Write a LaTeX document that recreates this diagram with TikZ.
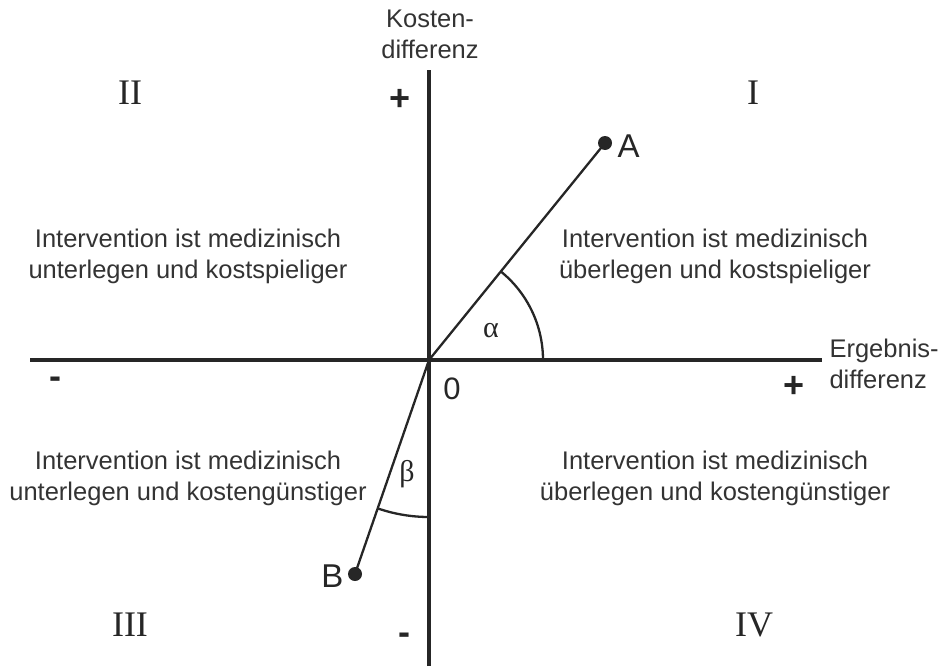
\documentclass[tikz,border=0pt]{standalone}
\usepackage{fontspec}
\setmainfont{Liberation Sans}
\newfontfamily\romfont{Liberation Serif}
\usepackage{tikz}
\usepackage{xcolor}

\begin{document}
\begin{tikzpicture}[x=1pt,y=-1pt,
  axis/.style={line width=3.8pt,draw=black!85},
  ray/.style={line width=2.3pt,draw=black!85},
  txt/.style={font=\fontsize{25.5}{31}\selectfont,align=center,text=black!80},
  quad/.style={font=\romfont\fontsize{36}{40}\selectfont,text=black!85},
  sgn/.style={font=\bfseries\fontsize{36}{36}\selectfont,text=black!85}]
\useasboundingbox (0,0) rectangle (944,666);
\coordinate (O) at (429,360);
\coordinate (yt) at (429,70);
\coordinate (yb) at (429,666);
\coordinate (xl) at (30,360);
\coordinate (xr) at (822,360);
\draw[axis] (yb) -- (yt);
\draw[axis] (xl) -- (xr);
% Punkte A und B
\fill[black!85] (605,143) circle (7) coordinate (A);
\fill[black!85] (355,574) circle (7) coordinate (B);
\node[anchor=west,font=\fontsize{33}{33}\selectfont,text=black!85] (labA) at (614,146) {A};
\node[anchor=east,font=\fontsize{33}{33}\selectfont,text=black!85] (labB) at (347,576) {B};
\draw[ray] (O) -- (A);
\draw[ray] (O) -- (B);
% Winkel
\draw[ray] (543,360) arc[start angle=0,end angle=-50.96,radius=114];
\draw[ray] (429,517) arc[start angle=90,end angle=109.08,radius=157];
\node[font=\romfont\fontsize{30}{30}\selectfont,text=black!85] (alpha) at (491,331) {α};
\node[font=\romfont\fontsize{30}{30}\selectfont,text=black!85] (beta) at (407,474) {β};
% Achsenbeschriftung
\node[txt] (kd) at (430,34) {Kosten-\\differenz};
\node[txt,align=left,anchor=west] (ed) at (826,364) {Ergebnis-\\differenz};
\node[sgn] (yp) at (400,100) {+};
\node[sgn] (xm) at (55,383) {-};
\node[sgn] (xp) at (794,387) {+};
\node[sgn] (ym) at (404,639) {-};
\node[font=\fontsize{31}{31}\selectfont,text=black!85] (null) at (452,389) {0};
% Quadranten
\foreach \name/\x/\y in {%
  II/130/93,
  I/753/93,
  III/130/625,
  IV/754/625}{
  \node[quad] (q\name) at (\x,\y) {\name};
}
\node[txt] (t2) at (188,256) {Intervention ist medizinisch\\unterlegen und kostspieliger};
\node[txt] (t1) at (715,256) {Intervention ist medizinisch\\überlegen und kostspieliger};
\node[txt] (t3) at (188,478) {Intervention ist medizinisch\\unterlegen und kostengünstiger};
\node[txt] (t4) at (715,478) {Intervention ist medizinisch\\überlegen und kostengünstiger};
\end{tikzpicture}
\end{document}
